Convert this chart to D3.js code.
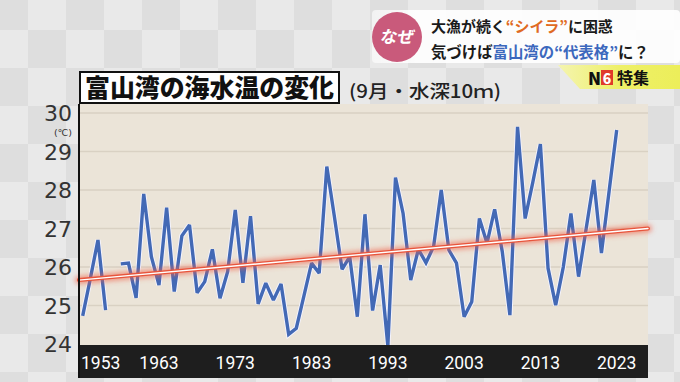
<!DOCTYPE html>
<html>
<head>
<meta charset="utf-8">
<script src="https://cdn.jsdelivr.net/npm/d3@7"></script>
<style>
  html, body { margin: 0; padding: 0; background: #e6e6e6; }
  svg { display: block; }
</style>
</head>
<body>
<script>
// ---- data ----
const years = d3.range(1953, 2024);
const temps = [
  24.73, 25.70, 26.70, 24.88, null, 26.08, 26.10, 25.20, 27.90, 26.27,
  25.53, 27.54, 25.36, 26.81, 27.09, 25.33, 25.62, 26.46, 25.19, 25.88,
  27.48, 25.59, 27.32, 25.04, 25.58, 25.14, 25.56, 24.25, 24.41, 25.25,
  26.10, 25.84, 28.61, 27.30, 25.94, 26.27, 24.71, 27.37, 24.87, 26.05,
  23.95, 28.32, 27.39, 25.66, 26.46, 26.11, 26.53, 28.00, 26.44, 26.10,
  24.71, 25.10, 27.26, 26.62, 27.50, 26.40, 24.75, 29.64, 27.26, 28.20,
  29.19, 25.97, 25.01, 26.00, 27.39, 25.75, 27.00, 28.26, 26.36, 27.96,
  29.56
];
const trendYears = [1952.5, 2027.1];
const trendValues = [25.66, 27.00];
const xTickYears = [1953, 1963, 1973, 1983, 1993, 2003, 2013, 2023];
const yTicks = [24, 25, 26, 27, 28, 29, 30];
const titleText = "富山湾の海水温の変化";
const subtitleText = "(9月・水深10ｍ)";
const unitText = "(℃)";

// ---- layout ----
const W = 680, H = 382;
const plot = { left: 79, right: 648, top: 104, bottom: 345 };
const band = { top: 345, bottom: 378 };

const x = d3.scaleLinear().domain([1953, 2023]).range([82.7, 616.7]);
const y = d3.scaleLinear().domain([24, 30]).range([344, 113]);

const svg = d3.select("body").append("svg").attr("width", W).attr("height", H);
const defs = svg.append("defs");

function fitWidth(sel, width) {
  const fs = parseFloat(sel.attr("font-size"));
  const w = sel.node().getComputedTextLength();
  if (w > 0) sel.attr("font-size", fs * width / w);
}

// checker background
const pat = defs.append("pattern").attr("id", "chk").attr("patternUnits", "userSpaceOnUse")
  .attr("width", 76).attr("height", 76).attr("x", -10).attr("y", -8);
pat.append("rect").attr("width", 76).attr("height", 76).attr("fill", "#e9e9e9");
pat.append("rect").attr("width", 38).attr("height", 38).attr("fill", "#dedede");
pat.append("rect").attr("x", 38).attr("y", 38).attr("width", 38).attr("height", 38).attr("fill", "#dedede");
svg.append("rect").attr("width", W).attr("height", H).attr("fill", "url(#chk)");

// glow filter
const f = defs.append("filter").attr("id", "glow").attr("x", "-10%").attr("y", "-200%").attr("width", "120%").attr("height", "500%");
f.append("feGaussianBlur").attr("stdDeviation", 2.4);

defs.append("clipPath").attr("id", "clip").append("rect")
  .attr("x", plot.left).attr("y", plot.top).attr("width", plot.right - plot.left).attr("height", plot.bottom - plot.top);

// plot background
svg.append("rect").attr("x", plot.left).attr("y", plot.top)
  .attr("width", plot.right - plot.left).attr("height", plot.bottom - plot.top)
  .attr("fill", "#ebe4d8");

// gridlines
svg.append("g").selectAll("line").data(yTicks.filter(d => d > 24)).join("line")
  .attr("x1", plot.left).attr("x2", plot.right)
  .attr("y1", d => y(d)).attr("y2", d => y(d))
  .attr("stroke", "#d9d1c3").attr("stroke-width", 1.5);

// data line
const line = d3.line().defined(d => d[1] != null).x(d => x(d[0])).y(d => y(d[1]));
const pts = years.map((yr, i) => [yr, temps[i]]);
const g = svg.append("g").attr("clip-path", "url(#clip)");
g.append("path").datum(pts).attr("d", line).attr("fill", "none")
  .attr("stroke", "#f4f4ff").attr("stroke-width", 5.2).attr("stroke-linejoin", "miter").attr("stroke-miterlimit", 2.2);
g.append("path").datum(pts).attr("d", line).attr("fill", "none")
  .attr("stroke", "#4369b5").attr("stroke-width", 3.4).attr("stroke-linejoin", "miter").attr("stroke-miterlimit", 2.2);

// trend line
const tpts = trendYears.map((yr, i) => [yr, trendValues[i]]);
const tl = d3.line().x(d => x(d[0])).y(d => y(d[1]));
svg.append("path").datum(tpts).attr("d", tl).attr("fill", "none")
  .attr("stroke", "#f06048").attr("stroke-width", 8).attr("stroke-opacity", 0.6)
  .attr("stroke-linecap", "round").attr("filter", "url(#glow)");
svg.append("path").datum(tpts).attr("d", tl).attr("fill", "none")
  .attr("stroke", "#e8553c").attr("stroke-width", 4).attr("stroke-linecap", "round");
svg.append("path").datum(tpts).attr("d", tl).attr("fill", "none")
  .attr("stroke", "#ffffff").attr("stroke-width", 1.4).attr("stroke-linecap", "round");

// bottom band
svg.append("rect").attr("x", plot.left - 1).attr("y", band.top)
  .attr("width", plot.right - plot.left + 1).attr("height", band.bottom - band.top)
  .attr("fill", "#1e1e1e");
// left border
svg.append("line").attr("x1", plot.left).attr("x2", plot.left)
  .attr("y1", plot.top).attr("y2", band.bottom)
  .attr("stroke", "#111").attr("stroke-width", 2);

// x labels
svg.append("g").selectAll("text").data(xTickYears).join("text")
  .attr("x", (d, i) => i === 0 ? plot.left + 2 : x(d))
  .attr("y", 369)
  .attr("text-anchor", (d, i) => i === 0 ? "start" : "middle")
  .attr("font-family", "Roboto, 'Noto Sans', sans-serif")
  .attr("font-size", 17.5).attr("fill", "#ffffff")
  .text(d => d);

// y labels
svg.append("g").selectAll("text").data(yTicks).join("text")
  .attr("x", 72).attr("y", d => y(d) + 8)
  .attr("text-anchor", "end")
  .attr("font-family", "'DejaVu Sans', sans-serif")
  .attr("font-size", 22).attr("fill", "#333")
  .text(d => d);
svg.append("text").attr("x", 72).attr("y", 136).attr("text-anchor", "end")
  .attr("font-family", "'DejaVu Sans', sans-serif").attr("font-size", 9.5).attr("fill", "#333")
  .text(unitText);

// title
svg.append("rect").attr("x", 80).attr("y", 72).attr("width", 259).attr("height", 31)
  .attr("fill", "#ffffff").attr("stroke", "#111").attr("stroke-width", 2);
svg.append("text").attr("x", 85).attr("y", 97)
  .attr("font-family", "'Noto Sans CJK JP', sans-serif").attr("font-weight", 900)
  .attr("font-size", 24.5).attr("fill", "#111")
  .attr("textLength", 249).attr("lengthAdjust", "spacingAndGlyphs")
  .text(titleText);
svg.append("text").attr("x", 349).attr("y", 98)
  .attr("font-family", "'Noto Sans CJK JP', sans-serif").attr("font-weight", 500)
  .attr("font-size", 18).attr("fill", "#222")
  .attr("textLength", 152).attr("lengthAdjust", "spacingAndGlyphs")
  .text(subtitleText);

// header banner
const bg = defs.append("linearGradient").attr("id", "ban").attr("x1", 0).attr("x2", 1);
bg.append("stop").attr("offset", 0).attr("stop-color", "#fff").attr("stop-opacity", 0.6);
bg.append("stop").attr("offset", 0.15).attr("stop-color", "#fff").attr("stop-opacity", 0.92);
bg.append("stop").attr("offset", 1).attr("stop-color", "#fff").attr("stop-opacity", 0.92);
svg.append("rect").attr("x", 372).attr("y", 10).attr("width", 308).attr("height", 53)
  .attr("rx", 4).attr("fill", "url(#ban)");
svg.append("circle").attr("cx", 397).attr("cy", 37).attr("r", 25).attr("fill", "#c95a7b");
svg.append("text").attr("x", 397).attr("y", 43).attr("text-anchor", "middle")
  .attr("font-family", "'Noto Sans CJK JP', sans-serif").attr("font-weight", 700)
  .attr("font-size", 17).attr("fill", "#fff")
  .attr("transform", "skewX(-10) translate(7,0)")
  .text("なぜ");

const l1 = svg.append("text").attr("x", 431).attr("y", 32)
  .attr("font-family", "'Noto Sans CJK JP', sans-serif").attr("font-weight", 700)
  .attr("font-size", 18).attr("fill", "#1a1a1a");
l1.append("tspan").text("大漁が続く");
l1.append("tspan").attr("fill", "#e06a22").text("“シイラ”");
l1.append("tspan").text("に困惑");
fitWidth(l1, 182);

const l2 = svg.append("text").attr("x", 431).attr("y", 58)
  .attr("font-family", "'Noto Sans CJK JP', sans-serif").attr("font-weight", 700)
  .attr("font-size", 18).attr("fill", "#1a1a1a");
l2.append("tspan").text("気づけば");
l2.append("tspan").attr("fill", "#3c68bd").text("富山湾の“代表格”");
l2.append("tspan").text("に？");
fitWidth(l2, 218);

// badge
const yg = defs.append("linearGradient").attr("id", "yel").attr("x1", 0).attr("x2", 1);
yg.append("stop").attr("offset", 0).attr("stop-color", "#f4f4b0");
yg.append("stop").attr("offset", 0.5).attr("stop-color", "#eef068");
yg.append("stop").attr("offset", 1).attr("stop-color", "#ecee5a");
svg.append("path").attr("d", "M558,65 L680,65 L680,89 L580,89 Z").attr("fill", "url(#yel)");
svg.append("text").attr("x", 588).attr("y", 84.5)
  .attr("font-family", "'Noto Sans CJK JP', sans-serif").attr("font-weight", 900)
  .attr("font-size", 17).attr("fill", "#111").text("N");
svg.append("rect").attr("x", 601).attr("y", 70).attr("width", 12).attr("height", 15).attr("fill", "#e03a2a");
svg.append("text").attr("x", 607).attr("y", 83.5).attr("text-anchor", "middle")
  .attr("font-family", "'Noto Sans CJK JP', sans-serif").attr("font-weight", 900)
  .attr("font-size", 14).attr("fill", "#fff").text("6");
svg.append("text").attr("x", 617).attr("y", 84)
  .attr("font-family", "'Noto Sans CJK JP', sans-serif").attr("font-weight", 700)
  .attr("font-size", 16).attr("fill", "#111").text("特集");
</script>
</body>
</html>
